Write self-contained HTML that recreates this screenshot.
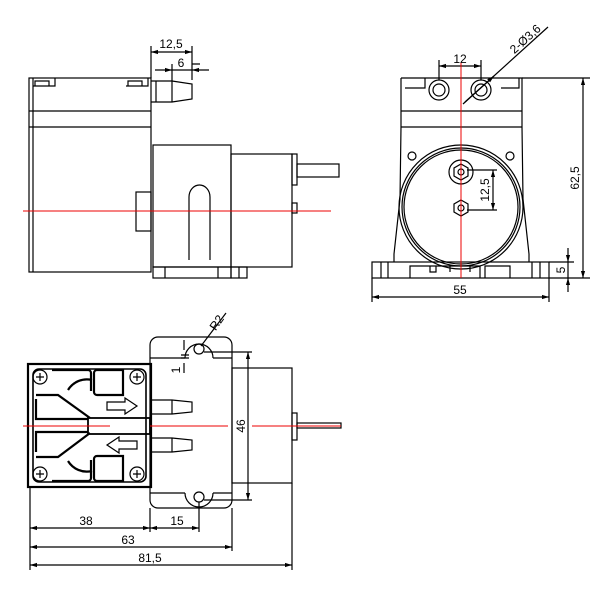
<!DOCTYPE html>
<html><head><meta charset="utf-8"><style>html,body{margin:0;padding:0;background:#fff}svg{display:block}</style></head>
<body>
<svg width="600" height="600" viewBox="0 0 600 600" xmlns="http://www.w3.org/2000/svg" font-family="Liberation Sans, sans-serif" font-size="12">
<defs>
<marker id="a" viewBox="0 0 10 10" refX="10" refY="5" markerWidth="6" markerHeight="6" orient="auto-start-reverse"><path d="M0,2 L10,5 L0,8z" fill="#000"/></marker>
</defs>
<g fill="none" stroke="#000" stroke-width="1.2">
<!-- SIDE VIEW -->
<rect x="29" y="78" width="122" height="194"/>
<line x1="33" y1="78" x2="33" y2="272"/>
<line x1="29" y1="111" x2="151" y2="111"/><line x1="29" y1="127" x2="151" y2="127"/>
<path d="M33,86 h22 v-8 M35,86 v-5 h14 v5 M126,86 h22 v-8 M128,86 v-5 h14 v5"/>
<path d="M151,81 h21 v21 h-21 M172,81 l20,3 v15 l-20,3 M156,81 v21"/>
<rect x="136" y="192" width="15" height="39"/>
<rect x="153" y="145" width="78" height="122"/>
<rect x="231" y="154" width="61" height="113"/>
<rect x="292" y="154" width="5" height="31"/><rect x="292" y="203" width="5" height="10"/>
<rect x="297" y="164" width="42" height="13"/>
<rect x="153" y="267" width="78" height="11"/><line x1="165" y1="267" x2="165" y2="278"/><line x1="218" y1="267" x2="218" y2="278"/>
<rect x="231" y="267" width="16" height="11"/><line x1="239" y1="267" x2="239" y2="278"/>
<path d="M189,260 V197 a10.5,12 0 0 1 21,0 V260"/>
<!-- dims side -->
<path d="M151,78 V46 M192,80 V46 M172,81 V64 M192,64 h8"/>
<line x1="151" y1="52" x2="192" y2="52" marker-start="url(#a)" marker-end="url(#a)"/>
<line x1="155" y1="70" x2="172" y2="70" marker-end="url(#a)"/><line x1="209" y1="70" x2="192" y2="70" marker-end="url(#a)"/>
<line x1="172" y1="70" x2="192" y2="70"/>
<!-- FRONT VIEW -->
<path d="M401,78 h121 v49 l1,72 l6,55 v8 M401,78 v49 l-1,72 l-6,55 v8"/>
<line x1="401" y1="111" x2="522" y2="111"/><line x1="401" y1="127" x2="522" y2="127"/>
<path d="M405,88 h20 v-10 M501,88 h18 v-10"/>
<circle cx="439" cy="90" r="10"/><circle cx="439" cy="90" r="6"/>
<circle cx="481" cy="90" r="10"/><circle cx="481" cy="90" r="6"/>
<circle cx="461" cy="207" r="62"/><circle cx="461" cy="207" r="59"/><circle cx="461" cy="207" r="57"/>
<circle cx="412" cy="156" r="4"/><circle cx="510" cy="156" r="4"/>
<circle cx="461" cy="172" r="12"/><polygon points="461,164 468,168 468,176 461,180 454,176 454,168"/><circle cx="461" cy="172" r="3"/>
<polygon points="461,200 468,204 468,212 461,216 454,212 454,204"/><circle cx="461" cy="208" r="3"/>
<rect x="372" y="262" width="177" height="16"/>
<path d="M381,262 v16 M388,262 v16 M532,262 v16 M540,262 v16"/>
<path d="M410,278 v-12 h70 v12 M430,266 v6 h6 v-6 M450,266 v6 M470,266 v6 M485,278 v-12 h25 v12"/>
<!-- dims front -->
<path d="M439,80 V60 M481,80 V60"/>
<line x1="439" y1="66" x2="481" y2="66" marker-start="url(#a)" marker-end="url(#a)"/>
<path d="M463,104 L548,27" /><path d="M465,102 L494,76" marker-end="url(#a)"/>
<path d="M522,78 H590 M549,278 H590"/>
<line x1="583" y1="78" x2="583" y2="278" marker-start="url(#a)" marker-end="url(#a)"/>
<path d="M467,170 H497 M467,210 H497"/>
<line x1="493" y1="170" x2="493" y2="210" marker-start="url(#a)" marker-end="url(#a)"/>
<path d="M549,262 H574"/>
<line x1="568" y1="248" x2="568" y2="262" marker-end="url(#a)"/><line x1="568" y1="292" x2="568" y2="278" marker-end="url(#a)"/>
<line x1="568" y1="262" x2="568" y2="278"/>
<path d="M372,278 V302 M549,278 V302"/>
<line x1="372" y1="297" x2="549" y2="297" marker-start="url(#a)" marker-end="url(#a)"/>
<!-- TOP VIEW -->
<rect x="28" y="364" width="123" height="123" stroke-width="2.2"/>
<rect x="33" y="369" width="113" height="113" rx="6" stroke-width="1.6"/>
<circle cx="40" cy="377" r="7"/><circle cx="137" cy="377" r="7"/><circle cx="40" cy="474" r="7"/><circle cx="137" cy="474" r="7"/>
<path d="M36,377 h8 M40,373 v8 M133,377 h8 M137,373 v8 M36,474 h8 M40,470 v8 M133,474 h8 M137,470 v8"/>
<g stroke-width="2.2">
<path d="M52,370 h36 a3,3 0 0 1 3,3 v18 M94,373 a3,3 0 0 1 3,-3 h26 v25 h-26 a3,3 0 0 1 -3,-3z"/>
<path d="M52,481 h36 a3,3 0 0 0 3,-3 v-18 M94,478 a3,3 0 0 0 3,3 h26 v-25 h-26 a3,3 0 0 0 -3,3z"/>
<path d="M36,395 h22 l32,23 M36,399 v20 h52 M36,457 h22 l32,-24 M36,452 v-20 h52"/>
<path d="M68,390 a22,22 0 0 1 24,-10 M68,461 a22,22 0 0 0 24,10"/>
</g>
<rect x="88" y="418" width="62" height="16" stroke-width="1.8"/>
<path d="M107,402 h18 v-4 l12,8 l-12,8 v-4 h-18z M137,441 h-18 v-4 l-12,8 l12,8 v-4 h18z"/>
<path d="M158,337 h66 a8,8 0 0 1 8,8 v155 a8,8 0 0 1 -8,8 h-66 a8,8 0 0 1 -8,-8 v-155 a8,8 0 0 1 8,-8z"/>
<path d="M150,358 H185 M213,358 H232 M150,493 H185 M213,493 H232"/>
<path d="M185,358 a14,14 0 0 1 28,0 M185,493 a14,14 0 0 0 28,0"/>
<circle cx="199" cy="349" r="5"/><circle cx="199" cy="497" r="5"/>
<path d="M151,400 h21 v14 h-21 M172,400 l20,2 v10 l-20,2 M151,438 h21 v14 h-21 M172,438 l20,2 v10 l-20,2"/>
<rect x="232" y="368" width="60" height="115"/>
<rect x="292" y="413" width="5" height="27"/>
<rect x="297" y="423" width="44" height="5"/>
<!-- dims top -->
<path d="M201,346 L226,313"/>
<path d="M204,352 H252 M204,500 H252"/>
<line x1="248" y1="352" x2="248" y2="500" marker-start="url(#a)" marker-end="url(#a)"/>
<path d="M184,340 v10 M184,363 v10 M181,355 h8 M181,358 h8"/>
<path d="M30,487 V570 M150,508 V532 M199,502 V532 M232,508 V551 M292,483 V570"/>
<line x1="30" y1="528" x2="150" y2="528" marker-start="url(#a)" marker-end="url(#a)"/>
<line x1="150" y1="528" x2="199" y2="528" marker-start="url(#a)" marker-end="url(#a)"/>
<line x1="30" y1="547" x2="232" y2="547" marker-start="url(#a)" marker-end="url(#a)"/>
<line x1="30" y1="565" x2="292" y2="565" marker-start="url(#a)" marker-end="url(#a)"/>
</g>
<g stroke="#e00" stroke-width="1" fill="none">
<line x1="23" y1="211" x2="331" y2="211"/>
<line x1="461" y1="62" x2="461" y2="278"/>
<line x1="23" y1="426" x2="110" y2="426"/><line x1="150" y1="426" x2="228" y2="426"/><line x1="252" y1="426" x2="341" y2="426"/>
</g>
<g fill="#000" text-anchor="middle">
<text x="171" y="48">12,5</text>
<text x="181" y="67">6</text>
<text x="460" y="63">12</text>
<text transform="translate(528,42) rotate(-42)">2-Ø3,6</text>
<text transform="translate(579,178) rotate(-90)">62,5</text>
<text transform="translate(489,190) rotate(-90)">12,5</text>
<text transform="translate(565,270) rotate(-90)">5</text>
<text x="460" y="294">55</text>
<text transform="translate(220,325) rotate(-55)">R2</text>
<text transform="translate(180,370) rotate(-90)">1</text>
<text transform="translate(245,426) rotate(-90)">46</text>
<text x="86" y="525">38</text>
<text x="177" y="525">15</text>
<text x="128" y="544">63</text>
<text x="150" y="562">81,5</text>
</g>
</svg>
</body></html>
